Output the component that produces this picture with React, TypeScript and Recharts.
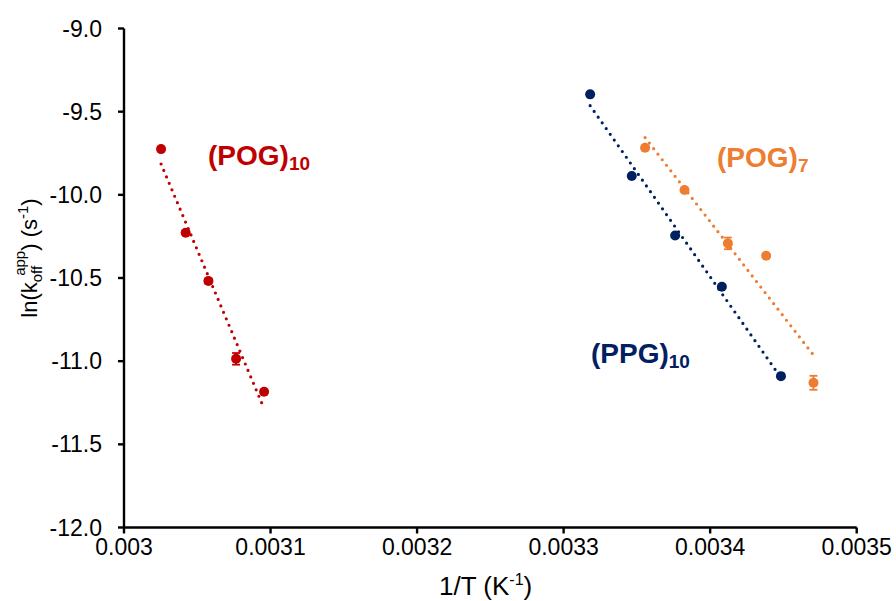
import { ScatterChart, Scatter, XAxis, YAxis, ErrorBar } from "recharts";

const FONT = "'Liberation Sans', Arial, sans-serif";

const RED = "#C00000";
const NAVY = "#002060";
const ORANGE = "#ED7D31";

// axis ticks
const xTicks = [0.003, 0.0031, 0.0032, 0.0033, 0.0034, 0.0035];
const yTicks = [-12, -11.5, -11, -10.5, -10, -9.5, -9];

// (POG)10
const pog10X = [0.0030253, 0.0030421, 0.0030576, 0.0030765, 0.0030956];
const pog10Y = [-9.725, -10.228, -10.518, -10.986, -11.184];
const pog10Err = [0.005, 0.012, 0.015, 0.035, 0.01];

// (PPG)10
const ppg10X = [0.0033181, 0.0033465, 0.0033761, 0.003408, 0.0034483];
const ppg10Y = [-9.396, -9.887, -10.244, -10.553, -11.09];
const ppg10Err = [0.005, 0.005, 0.005, 0.01, 0.005];

// (POG)7
const pog7X = [0.0033556, 0.0033825, 0.0034121, 0.0034382, 0.0034705];
const pog7Y = [-9.717, -9.971, -10.292, -10.366, -11.13];
const pog7Err = [0.012, 0.008, 0.035, 0.008, 0.042];

const toRows = (xs: number[], ys: number[], errs: number[]) =>
  xs.map((x, i) => ({ x, y: ys[i], err: errs[i] }));

// linear trendline over the data range (like Excel)
function trend(xs: number[], ys: number[]) {
  const n = xs.length;
  const mx = xs.reduce((a, b) => a + b, 0) / n;
  const my = ys.reduce((a, b) => a + b, 0) / n;
  let sxy = 0;
  let sxx = 0;
  xs.forEach((x, i) => {
    sxy += (x - mx) * (ys[i] - my);
    sxx += (x - mx) * (x - mx);
  });
  const slope = sxy / sxx;
  const x0 = Math.min(...xs);
  const x1 = Math.max(...xs);
  return [
    { x: x0, y: my + slope * (x0 - mx) },
    { x: x1, y: my + slope * (x1 - mx) },
  ];
}

const series = [
  { name: "pog10", color: RED, data: toRows(pog10X, pog10Y, pog10Err), fit: trend(pog10X, pog10Y) },
  { name: "ppg10", color: NAVY, data: toRows(ppg10X, ppg10Y, ppg10Err), fit: trend(ppg10X, ppg10Y) },
  { name: "pog7", color: ORANGE, data: toRows(pog7X, pog7Y, pog7Err), fit: trend(pog7X, pog7Y) },
];

const fmtX = (v: number) => String(Number(v.toFixed(4)));

const XTick = (props: any) => {
  const { x, y, payload } = props;
  return (
    <text x={x} y={y} dy={17} textAnchor="middle" fontSize={23} fontFamily={FONT} fill="#000">
      {fmtX(payload.value)}
    </text>
  );
};

const YTick = (props: any) => {
  const { x, y, payload } = props;
  return (
    <text x={x} y={y} dy={8} textAnchor="end" fontSize={23} fontFamily={FONT} fill="#000">
      {payload.value.toFixed(1)}
    </text>
  );
};

export default function App() {
  return (
    <div style={{ position: "fixed", left: 0, top: 0, width: 896, height: 601, background: "#fff" }}>
      <ScatterChart
        width={896}
        height={601}
        margin={{ top: 28.5, right: 39.3, left: 0, bottom: 0 }}
      >
        <XAxis
          type="number"
          dataKey="x"
          domain={[0.003, 0.0035]}
          ticks={xTicks}
          allowDataOverflow
          height={73.5}
          tickSize={6}
          tickMargin={4}
          axisLine={{ stroke: "#000", strokeWidth: 2.4 }}
          tickLine={{ stroke: "#000", strokeWidth: 2.4 }}
          tick={<XTick />}
        />
        <YAxis
          type="number"
          dataKey="y"
          domain={[-12, -9]}
          ticks={yTicks}
          allowDataOverflow
          width={124}
          tickSize={6}
          tickMargin={16}
          axisLine={{ stroke: "#000", strokeWidth: 2.4 }}
          tickLine={{ stroke: "#000", strokeWidth: 2.4 }}
          tick={<YTick />}
        />
        {series.map((s) => (
          <Scatter
            key={s.name + "-fit"}
            data={s.fit}
            line={{ stroke: s.color, strokeWidth: 3.2, strokeDasharray: "0 7", strokeLinecap: "round" }}
            lineType="joint"
            shape={() => <g />}
            isAnimationActive={false}
          />
        ))}
        {series.map((s) => (
          <Scatter
            key={s.name}
            data={s.data}
            fill={s.color}
            shape={(p: any) => <circle cx={p.cx} cy={p.cy} r={5} fill={s.color} />}
            isAnimationActive={false}
          >
            <ErrorBar dataKey="err" direction="y" width={4} stroke={s.color} strokeWidth={1.8} />
          </Scatter>
        ))}
      </ScatterChart>
      <svg
        width={896}
        height={601}
        style={{ position: "absolute", left: 0, top: 0, pointerEvents: "none" }}
        fontFamily={FONT}
      >
        <text x={208} y={165} fontSize={28} fontWeight="bold" fill={RED}>
          (POG)
          <tspan fontSize={19} dy={5}>10</tspan>
        </text>
        <text x={717} y={166.5} fontSize={28} fontWeight="bold" fill={ORANGE}>
          (POG)
          <tspan fontSize={19} dy={5}>7</tspan>
        </text>
        <text x={591} y={363} fontSize={28} fontWeight="bold" fill={NAVY}>
          (PPG)
          <tspan fontSize={19} dy={5}>10</tspan>
        </text>
        <text x={439} y={595} fontSize={26} textAnchor="start" fill="#000">
          1/T (K
          <tspan fontSize={16} dy={-10}>-1</tspan>
          <tspan dy={10}>)</tspan>
        </text>
        <text x={37} y={258} fontSize={22} textAnchor="middle" fill="#000" transform="rotate(-90 37 258)">
          ln(k
          <tspan fontSize={15} dy={5}>off</tspan>
          <tspan fontSize={15} dx={-10} dy={-17}>app</tspan>
          <tspan dy={12}>) (s</tspan>
          <tspan fontSize={15} dy={-9}>-1</tspan>
          <tspan dy={9}>)</tspan>
        </text>
      </svg>
    </div>
  );
}
